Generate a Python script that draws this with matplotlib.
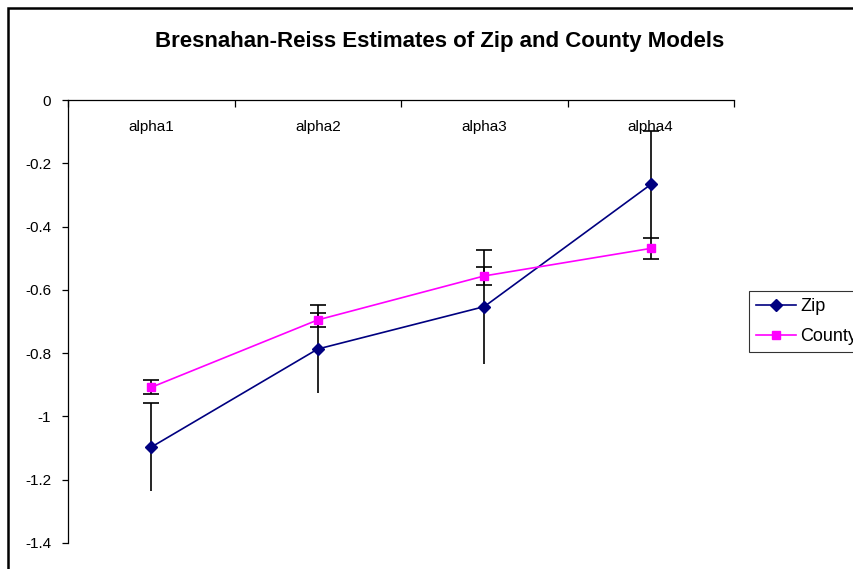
import matplotlib
matplotlib.use("Agg")
import matplotlib.pyplot as plt
from matplotlib.patches import Rectangle
import numpy as np

plt.rcParams['font.family'] = ['Liberation Sans', 'DejaVu Sans']

categories = ["alpha1", "alpha2", "alpha3", "alpha4"]
zip_vals = [-1.097, -0.787, -0.653, -0.267]
zip_err = [0.138, 0.138, 0.18, 0.17]
county_vals = [-0.908, -0.695, -0.556, -0.469]
county_err = [0.022, 0.023, 0.028, 0.033]
yticks = [0, -0.2, -0.4, -0.6, -0.8, -1, -1.2, -1.4]
ytick_labels = ["0", "-0.2", "-0.4", "-0.6", "-0.8", "-1", "-1.2", "-1.4"]

fig = plt.figure(figsize=(8.54, 5.69), dpi=100)
ax = fig.add_axes([68/854, 1-543/569, (734-68)/854, (543-100)/569])

x = np.arange(len(categories))

# Zip error bars (cap only on upper end)
ax.errorbar(x, zip_vals, yerr=zip_err, fmt='none', ecolor='black', elinewidth=1.2, capsize=0, zorder=2)
ax.plot(x, np.array(zip_vals) + np.array(zip_err), linestyle='none', marker='_', color='black',
        markersize=11, markeredgewidth=1.2, zorder=2)
# County error bars
ax.errorbar(x, county_vals, yerr=county_err, fmt='none', ecolor='black', elinewidth=1.2,
            capsize=5.5, capthick=1.2, zorder=2)

ax.plot(x, zip_vals, color='#000080', lw=1.2, marker='D', markersize=6, label='Zip', zorder=3)
ax.plot(x, county_vals, color='#FF00FF', lw=1.2, marker='s', markersize=6, label='County', zorder=3)

ax.set_xlim(-0.5, len(categories) - 0.5)
ax.set_ylim(-1.4, 0)

for s in ['right', 'bottom']:
    ax.spines[s].set_visible(False)
for s in ['top', 'left']:
    ax.spines[s].set_color('black')
    ax.spines[s].set_linewidth(0.9)

ax.set_yticks(yticks)
ax.set_yticklabels(ytick_labels, fontsize=11)
ax.tick_params(axis='y', direction='out', length=4, width=0.9, pad=8)

ax.xaxis.set_ticks_position('top')
ax.set_xticks(np.arange(len(categories) + 1) - 0.5)
ax.set_xticklabels([])
ax.tick_params(axis='x', direction='in', length=5, width=0.9, top=True, bottom=False)

for xi, c in zip(x, categories):
    ax.text(xi, -0.085, c, ha='center', va='center', fontsize=11)

fig.text(440/854, 1-42/569, "Bresnahan-Reiss Estimates of Zip and County Models",
         ha='center', va='center', fontsize=16, fontweight='bold')

leg = fig.legend(loc='upper left', bbox_to_anchor=(749/854, 1-291/569), fontsize=13,
                 frameon=True, fancybox=False, edgecolor='black', handlelength=2.2,
                 handletextpad=0.25, borderpad=0.4, labelspacing=0.7, borderaxespad=0)
leg.get_frame().set_linewidth(0.8)

fig.patches.append(Rectangle((8/854, -0.1), 1.2, 1 - 8/569 + 0.1, transform=fig.transFigure,
                             fill=False, edgecolor='black', linewidth=1.8))

fig.savefig("out.png", dpi=100)
